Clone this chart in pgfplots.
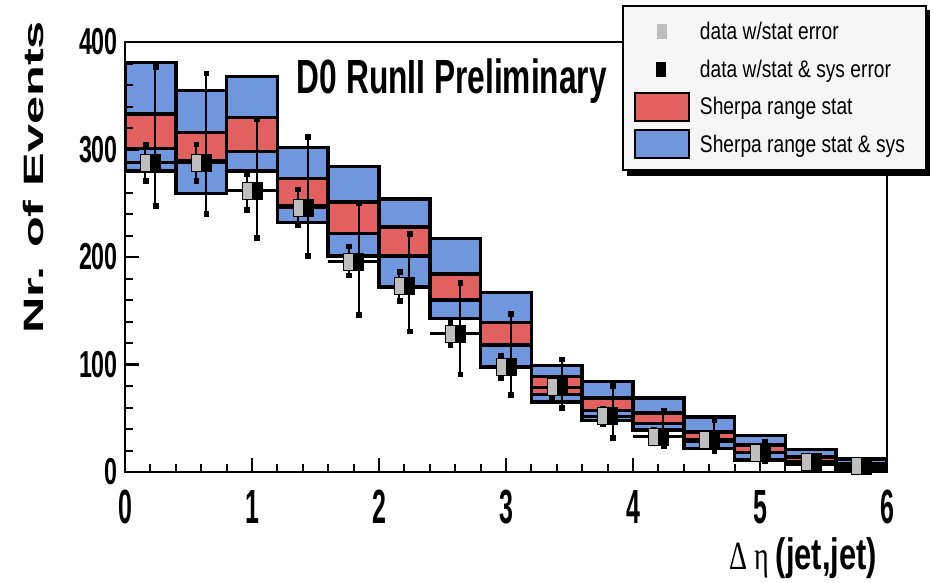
\documentclass[border=0pt]{standalone}
\usepackage{fontspec}
\setmainfont{Liberation Sans}
\newfontfamily\titlef[FakeStretch=0.66]{Liberation Sans}
\newfontfamily\ytickf[FakeStretch=0.62]{Liberation Sans}
\newfontfamily\xtickf[FakeStretch=0.52]{Liberation Sans}
\newfontfamily\ylabf[FakeStretch=1.8]{Liberation Sans}
\newfontfamily\xlabf[FakeStretch=0.7]{Liberation Sans}
\newfontfamily\greekf[FakeStretch=0.7]{Liberation Serif}
\newfontfamily\legf[FakeStretch=0.8]{Liberation Sans}
\usepackage{pgfplots}
\usepackage{pgfplotstable}
\pgfplotsset{compat=1.18}
\definecolor{sblue}{RGB}{112,150,221}
\definecolor{sred}{RGB}{226,96,96}
\definecolor{mgray}{RGB}{190,190,190}
\definecolor{legbg}{RGB}{246,246,246}

% bin centre, blue low, red low, red high, blue high
\pgfplotstableread{
c   blo rlo rhi bhi
0.2 280 301 333 381
0.6 259 290 316 355
1.0 280 298 330 368
1.4 232 248 273 302
1.8 201 222 251 284
2.2 172 201 228 254
2.6 143 160 184 217
3.0 97  118 139 167
3.4 65  72  89  99
3.8 48  57  69  84
4.2 39  45  55  69
4.6 22  29  37  51
5.0 11  18  25  34
5.4 7   10  14  21
5.8 2   4   8   12
}\bands

% data: value, stat minus/plus, stat+sys minus/plus
\pgfplotstableread{
c   y   sm sp ym yp
0.2 288 17 17 40 89
0.6 288 17 17 48 83
1.0 262 18 15 44 67
1.4 246 16 17 45 66
1.8 196 13 14 50 54
2.2 173 14 13 42 49
2.6 129 11 11 38 47
3.0 98  10 10 26 49
3.4 79  9  9  19 26
3.8 52  7  7  20 28
4.2 33  5  6  9  24
4.6 30  5  5  10 19
5.0 18  4  4  8  10
5.4 10  3  3  5  5
5.8 6   2  2  3  3
}\pts

\pgfplotsset{
  commonlegend/.style={
    legend cell align=left,
    legend style={anchor=north west, line width=2pt,
      inner xsep=11pt, inner ysep=7pt, column sep=10pt, nodes={inner sep=0pt},
      font=\legf\fontsize{24}{24}\selectfont}},
}

\begin{document}
\begin{tikzpicture}
\useasboundingbox (-125pt,-110pt) rectangle (808pt,472pt);
% background axis: Sherpa bands and the legend shadow
\begin{axis}[at={(0pt,0pt)}, anchor=south west, scale only axis,
  width=762pt, height=430pt, xmin=0, xmax=6, ymin=0, ymax=400,
  hide axis, ybar stacked, bar width=0.4,
  commonlegend,
  legend style={at={(axis description cs:0.6588,1.0744)}, draw=black, fill=black}]
\addplot[draw=none, fill=none, forget plot] table[x=c, y=blo] {\bands};
\addplot[fill=sblue, draw=black, line width=3.5pt, forget plot] table[x=c, y expr=\thisrow{rlo}-\thisrow{blo}] {\bands};
\addplot[fill=sred, draw=black, line width=3.5pt, forget plot] table[x=c, y expr=\thisrow{rhi}-\thisrow{rlo}] {\bands};
\addplot[fill=sblue, draw=black, line width=3.5pt, forget plot] table[x=c, y expr=\thisrow{bhi}-\thisrow{rhi}] {\bands};
\addlegendimage{legend image code/.code={\path[draw=none, fill=none] (0pt,-18.75pt) rectangle (54pt,18.75pt);}}
\addlegendentry{\makebox[215pt][l]{}}
\addlegendimage{legend image code/.code={\path[draw=none, fill=none] (0pt,-18.75pt) rectangle (54pt,18.75pt);}}
\addlegendentry{\makebox[215pt][l]{}}
\addlegendimage{legend image code/.code={\path[draw=none, fill=none] (0pt,-18.75pt) rectangle (54pt,18.75pt);}}
\addlegendentry{\makebox[215pt][l]{}}
\addlegendimage{legend image code/.code={\path[draw=none, fill=none] (0pt,-18.75pt) rectangle (54pt,18.75pt);}}
\addlegendentry{\makebox[215pt][l]{}}
\end{axis}

\begin{axis}[at={(0pt,0pt)}, anchor=south west, scale only axis,
  width=762pt, height=430pt, xmin=0, xmax=6, ymin=0, ymax=400,
  xtick={0,1,...,6}, ytick={0,100,...,400},
  minor x tick num=4, minor y tick num=4,
  tick align=inside, tick pos=left,
  major tick length=14pt, minor tick length=8pt,
  axis line style={line width=2.8pt},
  major tick style={line width=2.5pt, black},
  minor tick style={line width=2pt, black},
  /pgf/number format/assume math mode=true,
  yticklabel style={font=\ytickf\bfseries\fontsize{37.5}{37.5}\selectfont, inner sep=0pt, xshift=-7pt},
  xticklabel style={font=\xtickf\bfseries\fontsize{48}{48}\selectfont, inner sep=0pt, yshift=-18pt},
  xlabel={{\greekf\fontsize{40}{40}\selectfont Δ η }{\xlabf\bfseries\fontsize{44}{44}\selectfont (jet,jet)}},
  xlabel style={at={(axis description cs:0.987,-0.2256)}, anchor=base east, inner sep=0pt},
  ylabel={Nr. of Events},
  ylabel style={at={(axis description cs:-0.1076,0.685)}, anchor=base, inner sep=0pt, font=\ylabf\bfseries\fontsize{28}{28}\selectfont},
  commonlegend,
  legend style={at={(axis description cs:0.6522,1.086)}, draw=black, fill=legbg},
]
\addplot[forget plot, only marks, mark=none, black,
  error bars/.cd, x dir=both, x fixed=0.2, error mark=none,
  error bar style={line width=3pt, black}]
  table[x=c, y=y] {\pts};
\addplot[forget plot, only marks, mark=square*, mark size=5pt,
  mark options={fill=mgray, draw=none, yscale=1.7},
  error bars/.cd, y dir=both, y explicit, error mark=square*,
  error bar style={line width=2pt, black},
  error mark options={black, fill=black, mark size=2.4pt}]
  table[x expr=\thisrow{c}-0.04, y=y, y error plus=sp, y error minus=sm] {\pts};
\addplot[forget plot, only marks, mark=square*, mark size=5pt,
  mark options={fill=black, draw=none, yscale=1.7},
  error bars/.cd, y dir=both, y explicit, error mark=square*,
  error bar style={line width=2pt, black},
  error mark options={black, fill=black, mark size=2.4pt}]
  table[x expr=\thisrow{c}+0.04, y=y, y error plus=yp, y error minus=ym] {\pts};
\node[anchor=base, inner sep=0pt, font=\titlef\bfseries\fontsize{48}{48}\selectfont]
  at (axis description cs:0.429,0.881) {D0 RunII Preliminary};

\addlegendimage{legend image code/.code={\path[draw=none, fill=none] (0pt,-18.75pt) rectangle (54pt,18.75pt); \path[draw=none, fill=mgray] (22pt,-7.5pt) rectangle (32pt,7.5pt);}}
\addlegendentry{\makebox[215pt][l]{data w/stat error}}
\addlegendimage{legend image code/.code={\path[draw=none, fill=none] (0pt,-18.75pt) rectangle (54pt,18.75pt); \path[draw=none, fill=black] (21pt,-7.5pt) rectangle (31pt,7.5pt);}}
\addlegendentry{\makebox[215pt][l]{data w/stat \& sys error}}
\addlegendimage{legend image code/.code={\path[draw=none, fill=none] (0pt,-18.75pt) rectangle (54pt,18.75pt); \path[draw=black, fill=sred, line width=2pt] (0pt,-14pt) rectangle (54pt,14pt);}}
\addlegendentry{\makebox[215pt][l]{Sherpa range stat}}
\addlegendimage{legend image code/.code={\path[draw=none, fill=none] (0pt,-18.75pt) rectangle (54pt,18.75pt); \path[draw=black, fill=sblue, line width=2pt] (0pt,-14pt) rectangle (54pt,14pt);}}
\addlegendentry{\makebox[215pt][l]{Sherpa range stat \& sys}}
\end{axis}
\end{tikzpicture}
\end{document}
